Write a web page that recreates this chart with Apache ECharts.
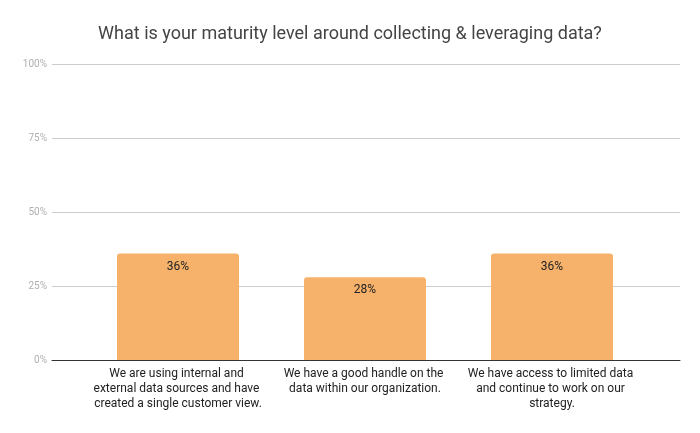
<!DOCTYPE html>
<html>
<head>
<meta charset="utf-8">
<script src="https://cdn.jsdelivr.net/npm/echarts@6/dist/echarts.min.js"></script>
<style>html,body{margin:0;padding:0;background:#fff}#c{width:700px;height:433px}</style>
</head>
<body>
<div id="c"></div>
<script>
var title = 'What is your maturity level around collecting & leveraging data?';
var categories = [
  'We are using internal and external data sources and have created a single customer view.',
  'We have a good handle on the data within our organization.',
  'We have access to limited data and continue to work on our strategy.'
];
var values = [36, 28, 36];
var yTicks = [0, 25, 50, 75, 100];

var chart = echarts.init(document.getElementById('c'), null, {renderer: 'canvas'});
var font = 'Roboto, Arial, sans-serif';
chart.setOption({
  backgroundColor: '#ffffff',
  animation: false,
  title: {
    text: title, left: 'center', top: 20,
    textStyle: {fontFamily: font, fontSize: 18, fontWeight: 'normal', color: '#444444'}
  },
  grid: [
    {left: 52, right: 20, top: 64.5, bottom: 73},
    {left: 84.5, right: 54.5, top: 64.5, bottom: 73}
  ],
  xAxis: [
    {gridIndex: 0, type: 'category', data: [''], axisTick: {show: false}, axisLabel: {show: false},
     axisLine: {show: true, lineStyle: {color: '#333333', width: 1}}},
    {gridIndex: 1, type: 'category', data: categories, axisTick: {show: false}, axisLine: {show: false},
     axisLabel: {interval: 0, margin: 6, color: '#222222', fontFamily: font, fontSize: 12, lineHeight: 15,
       width: 180, overflow: 'break', align: 'center'}}
  ],
  yAxis: [
    {gridIndex: 0, type: 'value', min: yTicks[0], max: yTicks[yTicks.length - 1], interval: 25,
     axisLine: {show: false}, axisTick: {show: false},
     axisLabel: {margin: 5, color: '#b0b0b0', fontFamily: font, fontSize: 10, formatter: '{value}%'},
     splitLine: {show: true, lineStyle: {color: '#cccccc', width: 1}}},
    {gridIndex: 1, type: 'value', min: yTicks[0], max: yTicks[yTicks.length - 1], interval: 25, show: false,
     splitLine: {show: false}}
  ],
  series: [{
    type: 'bar', xAxisIndex: 1, yAxisIndex: 1, data: values, barWidth: 122,
    itemStyle: {color: '#f6b26b', borderRadius: [3, 3, 0, 0]},
    label: {show: true, position: 'insideTop', distance: 7, formatter: '{c}%', color: '#222222',
      fontFamily: font, fontSize: 12}
  }]
});
</script>
</body>
</html>
